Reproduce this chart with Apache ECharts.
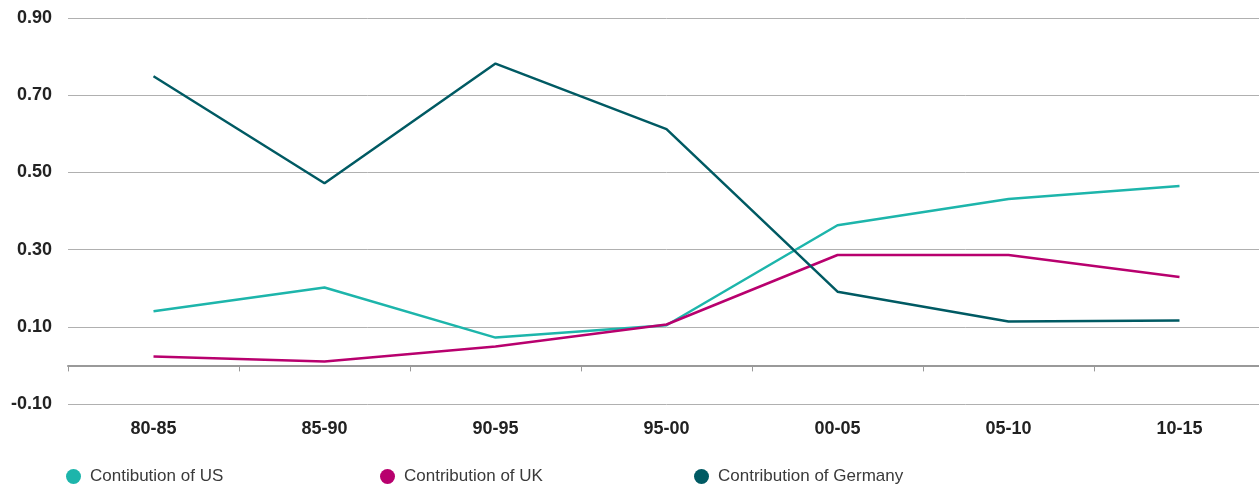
<!DOCTYPE html>
<html><head><meta charset="utf-8">
<script src="https://cdn.jsdelivr.net/npm/echarts@6/dist/echarts.min.js"></script>
<style>html,body{margin:0;padding:0;background:#fff;overflow:hidden}#c{width:1265px;height:484px}</style>
</head><body><div id="c"></div>
<script>
const categories = ['80-85','85-90','90-95','95-00','00-05','05-10','10-15'];
const usValues = [0.140, 0.202, 0.072, 0.104, 0.363, 0.431, 0.465];
const ukValues = [0.023, 0.010, 0.049, 0.106, 0.286, 0.286, 0.229];
const germanyValues = [0.749, 0.472, 0.782, 0.612, 0.191, 0.114, 0.116];
const seriesNames = ['Contibution of US', 'Contribution of UK', 'Contribution of Germany'];
const colors = ['#1db5ab', '#b8006e', '#005a63'];

const chart = echarts.init(document.getElementById('c'));
const legendBase = (i, left) => ({
  data: [seriesNames[i]], left: left, top: 463, icon: 'circle', itemWidth: 15, itemHeight: 15,
  textStyle: {fontFamily: 'Liberation Sans', fontSize: 17, color: '#3a3a3a', padding: [0,0,0,4]}
});
chart.setOption({
  animation: false,
  color: colors,
  grid: {left: 68, right: 0, top: 18, bottom: 80},
  legend: [legendBase(0, 61), legendBase(1, 375), legendBase(2, 689)],
  xAxis: {
    type: 'category', data: categories, boundaryGap: true,
    axisLine: {onZero: true, lineStyle: {color: '#999', width: 2}},
    axisTick: {show: true, length: 6, lineStyle: {color: '#999', width: 1}},
    axisLabel: {margin: 16, fontFamily: 'Liberation Sans', fontWeight: 'bold', fontSize: 18, color: '#222'}
  },
  yAxis: {
    type: 'value', min: -0.1, max: 0.9, interval: 0.2,
    axisLine: {show: false}, axisTick: {show: false},
    splitLine: {lineStyle: {color: '#b0b0b0', width: 1}},
    axisLabel: {margin: 16, fontFamily: 'Liberation Sans', fontWeight: 'bold', fontSize: 18, color: '#222',
      formatter: v => v.toFixed(2)}
  },
  series: [
    {name: seriesNames[0], type: 'line', data: usValues, symbol: 'none', lineStyle: {width: 2.5}},
    {name: seriesNames[1], type: 'line', data: ukValues, symbol: 'none', lineStyle: {width: 2.5}},
    {name: seriesNames[2], type: 'line', data: germanyValues, symbol: 'none', lineStyle: {width: 2.5}}
  ]
});
</script></body></html>
